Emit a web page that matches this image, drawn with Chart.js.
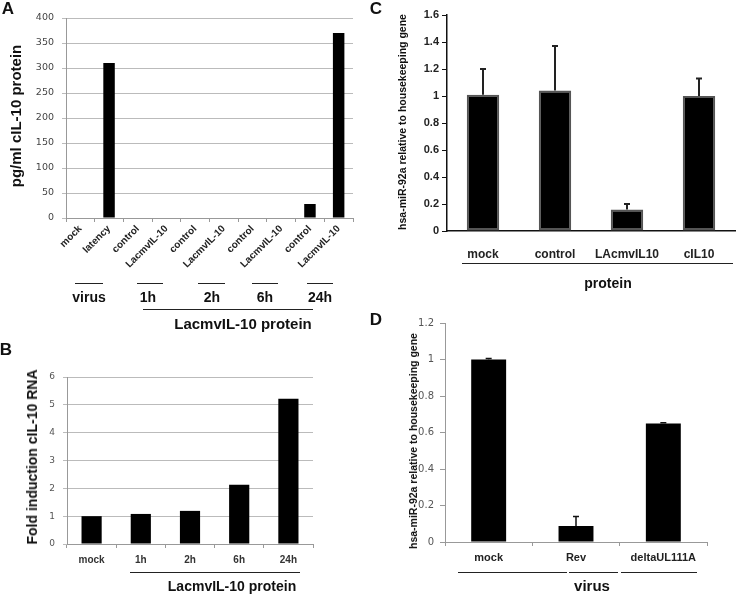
<!DOCTYPE html>
<html>
<head>
<meta charset="utf-8">
<script src="https://cdn.jsdelivr.net/npm/chart.js@4.4.0/dist/chart.umd.min.js"></script>
<style>
    body { margin: 0; background: #fff; }
    #fig { position: relative; width: 740px; height: 594px; overflow: hidden; font-family: "Liberation Sans", Arial, sans-serif; color: #111; }
    #fig canvas { position: absolute; left: 0; top: 0; }
    .t { position: absolute; transform: translate(-50%, -50%); white-space: nowrap; font-weight: bold; }
    .v { position: absolute; transform: translate(-50%, -50%) rotate(-90deg); white-space: nowrap; font-weight: bold; }
    .ln { position: absolute; height: 1px; background: #222; }
</style>
</head>
<body>
<div id="fig">
    <canvas id="chartA" width="740" height="594"></canvas>
    <canvas id="chartB" width="740" height="594"></canvas>
    <canvas id="chartC" width="740" height="594"></canvas>
    <canvas id="chartD" width="740" height="594"></canvas>

    <!-- panel A -->
    <div class="t" style="left:8px;top:9px;font-size:17px">A</div>
    <div class="v" style="left:15px;top:116px;font-size:15px">pg/ml cIL-10 protein</div>
    <div class="ln" style="left:75px;width:28px;top:283px"></div>
    <div class="ln" style="left:137px;width:26px;top:283px"></div>
    <div class="ln" style="left:198px;width:27px;top:283px"></div>
    <div class="ln" style="left:252px;width:26px;top:283px"></div>
    <div class="ln" style="left:307px;width:26px;top:283px"></div>
    <div class="t" style="left:89px;top:297px;font-size:14px">virus</div>
    <div class="t" style="left:148px;top:297px;font-size:14px">1h</div>
    <div class="t" style="left:212px;top:297px;font-size:14px">2h</div>
    <div class="t" style="left:265px;top:297px;font-size:14px">6h</div>
    <div class="t" style="left:320px;top:297px;font-size:14px">24h</div>
    <div class="ln" style="left:143px;width:170px;top:309px"></div>
    <div class="t" style="left:243px;top:323px;font-size:15px">LacmvIL-10 protein</div>

    <!-- panel B -->
    <div class="t" style="left:6px;top:350px;font-size:17px">B</div>
    <div class="v" style="left:32px;top:457px;font-size:14px">Fold induction cIL-10 RNA</div>
    <div class="ln" style="left:130px;width:170px;top:572px"></div>
    <div class="t" style="left:232px;top:586px;font-size:14px">LacmvIL-10 protein</div>

    <!-- panel C -->
    <div class="t" style="left:376px;top:9px;font-size:17px">C</div>
    <div class="v" style="left:402px;top:122px;font-size:10.5px">hsa-miR-92a relative to housekeeping gene</div>
    <div class="ln" style="left:462px;width:271px;top:263px"></div>
    <div class="t" style="left:608px;top:283px;font-size:14px">protein</div>

    <!-- panel D -->
    <div class="t" style="left:376px;top:320px;font-size:17px">D</div>
    <div class="v" style="left:413px;top:441px;font-size:10.5px">hsa-miR-92a relative to housekeeping gene</div>
    <div class="ln" style="left:458px;width:109px;top:572px"></div>
    <div class="ln" style="left:569px;width:49px;top:572px"></div>
    <div class="ln" style="left:621px;width:76px;top:572px"></div>
    <div class="t" style="left:592px;top:585px;font-size:15px">virus</div>
</div>

<script type="text/javascript">
// A: ELISA, pg/ml cIL-10 protein
const aLabels = ['mock', 'latency', 'control', 'LacmvIL-10', 'control', 'LacmvIL-10', 'control', 'LacmvIL-10', 'control', 'LacmvIL-10'];
const aValues = [0, 310, 0, 0, 0, 0, 0, 1, 28, 370];

// B: fold induction of cIL-10 RNA
const bLabels = ['mock', '1h', '2h', '6h', '24h'];
const bValues = [1.0, 1.08, 1.19, 2.13, 5.22];

// C: hsa-miR-92a after protein treatment (mean and upper error)
const cLabels = ['mock', 'control', 'LAcmvIL10', 'cIL10'];
const cValues = [1.01, 1.04, 0.16, 1.0];
const cErrTop = [1.2, 1.37, 0.2, 1.13];

// D: hsa-miR-92a after virus infection
const dLabels = ['mock', 'Rev', 'deltaUL111A'];
const dValues = [1.0, 0.087, 0.65];
const dErrTop = [1.006, 0.14, 0.653];

const FONT = '"Liberation Sans", Arial, sans-serif';

// one-sided error bars drawn from the top of each bar
Chart.register({
    id: 'errorBars',
    afterDatasetsDraw(chart, args, opts) {
        if (!opts || !opts.tops) return;
        const ctx = chart.ctx;
        const yScale = chart.scales.y;
        const bars = chart.getDatasetMeta(0).data;
        ctx.save();
        ctx.strokeStyle = opts.color;
        ctx.lineWidth = opts.width;
        opts.tops.forEach(function (v, i) {
            const bar = bars[i];
            const y1 = yScale.getPixelForValue(v);
            ctx.beginPath();
            ctx.moveTo(bar.x, bar.y);
            ctx.lineTo(bar.x, y1);
            ctx.moveTo(bar.x - opts.cap, y1);
            ctx.lineTo(bar.x + opts.cap, y1);
            ctx.stroke();
        });
        ctx.restore();
    }
});

function fixSize(size, vertical) {
    return function (scale) {
        if (vertical) scale.width = size; else scale.height = size;
        scale.paddingLeft = scale.paddingRight = scale.paddingTop = scale.paddingBottom = 0;
    };
}

// "1" instead of "1.0", like the original axes
function plainNumber(v) {
    return String(Number(v.toFixed(2)));
}

function barChart(id, cfg) {
    return new Chart(document.getElementById(id), {
        type: 'bar',
        data: {
            labels: cfg.labels,
            datasets: [{
                data: cfg.values,
                backgroundColor: '#000',
                borderColor: cfg.barBorder || '#000',
                borderWidth: cfg.barBorderWidth || 0,
                borderSkipped: false,
                barPercentage: cfg.barPct,
                categoryPercentage: 1
            }]
        },
        options: {
            responsive: false,
            animation: false,
            events: [],
            layout: { padding: cfg.padding },
            plugins: {
                legend: { display: false },
                tooltip: { enabled: false },
                errorBars: cfg.errors || {}
            },
            scales: {
                x: cfg.x,
                y: cfg.y
            }
        }
    });
}

// Panel A
barChart('chartA', {
    labels: aLabels,
    values: aValues,
    barPct: 0.4,
    padding: { left: 26, top: 18, right: 387, bottom: 316 },
    x: {
        afterFit: fixSize(60, false),
        border: { color: '#999' },
        grid: { drawOnChartArea: false, tickLength: 4, color: '#999' },
        ticks: { autoSkip: false, minRotation: 45, maxRotation: 45, padding: 1, color: '#222', font: { family: FONT, size: 10, weight: 'bold' } }
    },
    y: {
        min: 0, max: 400,
        afterFit: fixSize(40, true),
        border: { color: '#999' },
        grid: { color: '#bbb', tickLength: 4 },
        ticks: { stepSize: 50, padding: 8, color: '#444', font: { family: '"DejaVu Sans", sans-serif', size: 9.5 } }
    }
});

// Panel B
barChart('chartB', {
    labels: bLabels,
    values: bValues,
    barPct: 0.41,
    padding: { left: 27, top: 377, right: 427, bottom: 20 },
    x: {
        afterFit: fixSize(30, false),
        border: { color: '#999' },
        grid: { drawOnChartArea: false, tickLength: 4, color: '#999' },
        ticks: { padding: 6, color: '#333', font: { family: FONT, size: 10, weight: 'bold' } }
    },
    y: {
        min: 0, max: 6,
        afterFit: fixSize(40, true),
        border: { color: '#999' },
        grid: { color: '#bbb', tickLength: 4 },
        ticks: { stepSize: 1, padding: 8, color: '#555', font: { family: '"DejaVu Sans", sans-serif', size: 9 } }
    }
});

// Panel C
barChart('chartC', {
    labels: cLabels,
    values: cValues,
    barPct: 0.45,
    barBorder: '#555',
    barBorderWidth: 2,
    padding: { left: 407, top: 15, right: 5, bottom: 333 },
    errors: { tops: cErrTop, color: '#222', width: 2, cap: 3 },
    x: {
        afterFit: fixSize(30, false),
        border: { color: '#111', width: 1.5 },
        grid: { display: false },
        ticks: { padding: 8, color: '#222', font: { family: FONT, size: 12, weight: 'bold' } }
    },
    y: {
        min: 0, max: 1.6,
        afterFit: fixSize(40, true),
        border: { color: '#111', width: 1.5 },
        grid: { drawOnChartArea: false, tickLength: 5, color: '#111' },
        ticks: { stepSize: 0.2, padding: 3, color: '#222', callback: plainNumber, font: { family: FONT, size: 11, weight: 'bold' } }
    }
});

// Panel D
barChart('chartD', {
    labels: dLabels,
    values: dValues,
    barPct: 0.4,
    padding: { left: 405, top: 323, right: 33, bottom: 22 },
    errors: { tops: dErrTop, color: '#111', width: 1.5, cap: 3 },
    x: {
        afterFit: fixSize(30, false),
        border: { color: '#999' },
        grid: { drawOnChartArea: false, tickLength: 4, color: '#999' },
        ticks: { padding: 5, color: '#222', font: { family: FONT, size: 11, weight: 'bold' } }
    },
    y: {
        min: 0, max: 1.2,
        afterFit: fixSize(40, true),
        border: { color: '#999' },
        grid: { drawOnChartArea: false, tickLength: 5, color: '#999' },
        ticks: { stepSize: 0.2, padding: 6, color: '#555', callback: plainNumber, font: { family: '"DejaVu Sans", sans-serif', size: 10 } }
    }
});
</script>
</body>
</html>
